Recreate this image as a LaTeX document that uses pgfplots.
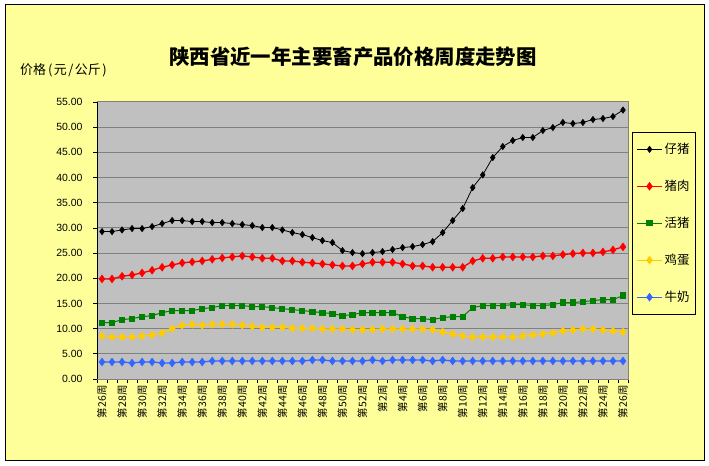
\documentclass[border=0pt]{standalone}
\usepackage{fontspec}
\setmainfont{Liberation Sans}
\newfontfamily\cjk{Noto Sans CJK SC}
\usepackage{pgfplots}
\pgfplotsset{compat=1.18}
\usepackage{pgfplotstable}

\definecolor{bgy}{HTML}{FFFF99}
\definecolor{plotbg}{HTML}{C0C0C0}
\definecolor{gridc}{HTML}{808080}
\definecolor{pred}{HTML}{FF0000}
\definecolor{pgreen}{HTML}{008000}
\definecolor{pyellow}{HTML}{FFCC00}
\definecolor{pblue}{HTML}{3366FF}

\pgfplotstableread{
x zz zr hz jd nn
0 29.27 19.87 11.19 8.54 3.38
1 29.27 19.87 11.19 8.34 3.38
2 29.60 20.40 11.79 8.34 3.38
3 29.87 20.66 11.99 8.34 3.18
4 29.87 21.06 12.38 8.54 3.38
5 30.26 21.59 12.58 8.74 3.38
6 30.86 22.19 13.18 9.14 3.18
7 31.46 22.65 13.58 10.00 3.18
8 31.46 23.05 13.58 10.66 3.38
9 31.26 23.25 13.58 10.86 3.38
10 31.26 23.44 13.97 10.66 3.38
11 31.06 23.77 14.17 10.86 3.58
12 31.06 24.04 14.57 10.86 3.58
13 30.86 24.24 14.57 10.86 3.58
14 30.66 24.44 14.57 10.66 3.58
15 30.46 24.24 14.37 10.46 3.58
16 30.07 23.97 14.37 10.26 3.58
17 30.07 23.97 14.17 10.26 3.58
18 29.60 23.44 13.97 10.26 3.58
19 29.07 23.44 13.77 10.07 3.58
20 28.68 23.18 13.58 10.07 3.58
21 28.08 23.05 13.38 10.07 3.77
22 27.48 22.85 13.18 9.93 3.77
23 27.09 22.65 12.98 9.93 3.58
24 25.50 22.45 12.58 9.93 3.58
25 25.10 22.45 12.78 9.80 3.58
26 24.90 22.85 13.18 9.80 3.58
27 25.10 23.18 13.18 9.80 3.77
28 25.30 23.18 13.18 9.93 3.58
29 25.70 23.18 13.18 9.93 3.77
30 26.09 22.85 12.38 9.93 3.77
31 26.29 22.45 11.99 9.93 3.77
32 26.69 22.45 11.99 9.93 3.77
33 27.28 22.19 11.79 9.80 3.58
34 29.07 22.19 12.19 9.34 3.77
35 31.46 22.19 12.38 8.94 3.58
36 33.84 22.19 12.38 8.54 3.58
37 38.01 23.44 14.17 8.34 3.58
38 40.53 23.97 14.57 8.34 3.58
39 43.97 23.97 14.57 8.34 3.58
40 46.16 24.24 14.57 8.34 3.58
41 47.35 24.24 14.77 8.34 3.58
42 47.95 24.24 14.77 8.54 3.58
43 47.95 24.24 14.57 8.74 3.58
44 49.34 24.44 14.57 8.94 3.58
45 49.93 24.44 14.77 9.14 3.58
46 50.93 24.70 15.17 9.54 3.58
47 50.73 24.90 15.17 9.74 3.58
48 50.93 25.03 15.36 9.93 3.58
49 51.52 25.03 15.56 9.93 3.58
50 51.72 25.23 15.76 9.74 3.58
51 52.12 25.63 15.76 9.54 3.58
52 53.40 26.23 16.56 9.34 3.58
}\pricedata

\begin{document}
\begin{tikzpicture}
\fill[white] (0bp,0bp) rectangle (709bp,466bp);
\draw[fill=bgy, line width=1bp] (5bp,5bp) rectangle (704bp,461bp);
\node[font=\cjk\bfseries\fontsize{20.5}{21}\selectfont] at (353bp,409bp) {陕西省近一年主要畜产品价格周度走势图};
\node[font=\cjk\fontsize{13}{13}\selectfont, anchor=west, inner sep=0pt] at (20bp,396bp) {价格\kern2bp(\kern1.5bp元\kern1.5bp/\kern1.5bp公斤\kern1.5bp)};
\begin{axis}[
  at={(97bp,87bp)}, anchor=south west, scale only axis,
  width=531bp, height=277bp,
  xmin=-0.5, xmax=52.5, ymin=0, ymax=55,
  axis background/.style={fill=plotbg},
  axis line style={draw=gridc, line width=1bp},
  ytick={0,5,...,55},
  yticklabel style={/pgf/number format/fixed, /pgf/number format/fixed zerofill, /pgf/number format/precision=2, /pgf/number format/assume math mode=true, font=\fontsize{10.5}{10.5}\selectfont, xshift=-7bp},
  ymajorgrids, major grid style={draw=gridc, line width=1bp},
  tick align=outside, tick pos=left,
  major tick length=4bp,
  tick style={black, line width=0.8bp},
  xtick={-0.5,0.5,...,52.5}, xticklabels={},
  extra x ticks={0,2,...,52},
  extra x tick labels={第26周,第28周,第30周,第32周,第34周,第36周,第38周,第40周,第42周,第44周,第46周,第48周,第50周,第52周,第2周,第4周,第6周,第8周,第10周,第12周,第14周,第16周,第18周,第20周,第22周,第24周,第26周},
  extra x tick style={major tick length=0pt, tick label style={font=\cjk\fontsize{10.5}{10.5}\selectfont, rotate=90, anchor=east, xshift=-3bp}},
  legend style={at={(axis description cs:1.0075,0.8917)}, anchor=north west,
    draw=black, fill=bgy, line width=0.8bp, font=\cjk\fontsize{12.5}{12.5}\selectfont,
    row sep=21bp, inner xsep=4bp, inner ysep=9bp, cells={anchor=west}},
  legend image code/.code={\draw[mark repeat=2, mark phase=2] plot coordinates {(0bp,0bp) (12.5bp,0bp) (25bp,0bp)};},
]
\addplot[black, line width=0.8bp, mark=diamond*, mark size=3bp, mark options={solid, fill=black}] table[x=x,y=zz]{\pricedata};
\addlegendentry{仔猪}
\addplot[pred, line width=1.3bp, mark=diamond*, mark size=3.3bp, mark options={solid, fill=pred}] table[x=x,y=zr]{\pricedata};
\addlegendentry{猪肉}
\addplot[pgreen, line width=1bp, mark=square*, mark size=2.6bp, mark options={solid, fill=pgreen}] table[x=x,y=hz]{\pricedata};
\addlegendentry{活猪}
\addplot[pyellow, line width=1.3bp, mark=diamond*, mark size=3.3bp, mark options={solid, fill=pyellow}] table[x=x,y=jd]{\pricedata};
\addlegendentry{鸡蛋}
\addplot[pblue, line width=1.3bp, mark=diamond*, mark size=3.3bp, mark options={solid, fill=pblue}] table[x=x,y=nn]{\pricedata};
\addlegendentry{牛奶}
\draw[black, line width=1bp] (rel axis cs:0,1) -- (rel axis cs:0,0) -- (rel axis cs:1,0);
\end{axis}
\end{tikzpicture}
\end{document}
